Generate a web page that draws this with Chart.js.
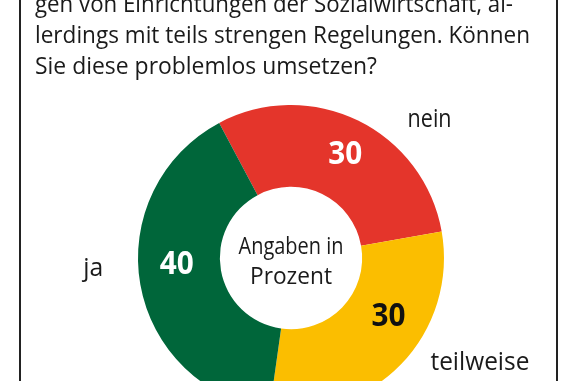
<!DOCTYPE html>
<html>
<head>
<meta charset="utf-8">
<script src="https://cdn.jsdelivr.net/npm/chart.js@4.4.1/dist/chart.umd.min.js"></script>
<style>
  html, body { margin:0; padding:0; background:#fff; overflow:hidden; width:576px; height:381px; }
  #wrap { position:absolute; left:0; top:0; width:576px; height:520px; }
  .vline { position:absolute; top:0; width:2px; height:381px; background:#222; }
</style>
</head>
<body>
<div id="wrap"><canvas id="c"></canvas></div>
<div class="vline" style="left:19px"></div>
<div class="vline" style="left:556px"></div>
<script>
// ---- data ----
const categories = ['nein', 'teilweise', 'ja'];
const values = [30, 30, 40];
const questionLines = [
  'gen von Einrichtungen der Sozialwirtschaft, al-',
  'lerdings mit teils strengen Regelungen. Können',
  'Sie diese problemlos umsetzen?'
];
const centerLines = ['Angaben in', 'Prozent'];

const FONT = '"Open Sans", "Noto Sans", sans-serif';

const textPlugin = {
  id: 'textPlugin',
  afterDatasetsDraw(chart) {
    const ctx = chart.ctx;
    const meta = chart.getDatasetMeta(0);
    ctx.save();
    // question text
    ctx.fillStyle = '#1a1a1a';
    ctx.font = '24px ' + FONT;
    ctx.textAlign = 'left';
    ctx.textBaseline = 'alphabetic';
    const qBase = [12, 43, 74];
    const qW = [478, 495, 342];
    questionLines.forEach((t, i) => ctx.fillText(t, 35, qBase[i], qW[i]));

    const arc0 = meta.data[0];
    const cx = arc0.x, cy = arc0.y;

    // center text
    ctx.textAlign = 'center';
    ctx.font = '24px ' + FONT;
    ctx.fillText(centerLines[0], cx, cy - 4, 105);
    ctx.fillText(centerLines[1], cx, cy + 26, 82);

    // value labels
    const valOff = [[5, -3], [17, -20], [-4, -14]];
    const valColor = ['#ffffff', '#111111', '#ffffff'];
    ctx.font = 'bold 32px ' + FONT;
    ctx.textBaseline = 'middle';
    meta.data.forEach((arc, i) => {
      const p = arc.getCenterPoint();
      ctx.fillStyle = valColor[i];
      ctx.fillText(String(values[i]), p.x + valOff[i][0], p.y + valOff[i][1] + 1, 34);
    });

    // category labels outside
    const lab = [[45, 196, 44], [119, 216, 99], [267, 198, 20]];
    ctx.fillStyle = '#1a1a1a';
    ctx.font = '26px ' + FONT;
    ctx.textBaseline = 'middle';
    categories.forEach((c, i) => {
      const a = lab[i][0] * Math.PI / 180, r = lab[i][1];
      ctx.fillText(c, cx + r * Math.sin(a), cy - r * Math.cos(a), lab[i][2]);
    });
    ctx.restore();
  }
};

new Chart(document.getElementById('c'), {
  type: 'doughnut',
  data: {
    labels: categories,
    datasets: [{
      data: values,
      backgroundColor: ['#e4352b', '#fbbe00', '#00663a'],
      borderWidth: 0
    }]
  },
  options: {
    responsive: true,
    maintainAspectRatio: false,
    animation: false,
    rotation: -28,
    cutout: '46.5%',
    layout: { padding: { left: 138, right: 132, top: 105, bottom: 109 } },
    plugins: { legend: { display: false }, tooltip: { enabled: false } },
    events: []
  },
  plugins: [textPlugin]
});
</script>
</body>
</html>
